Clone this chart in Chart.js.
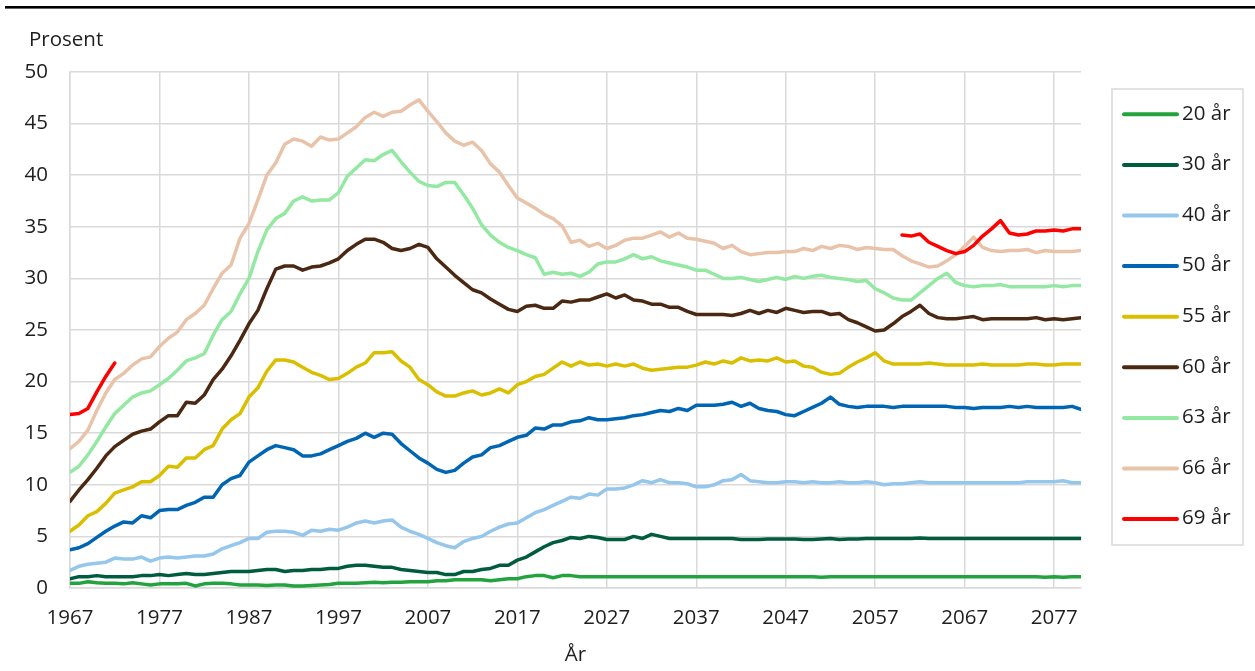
<!DOCTYPE html>
<html lang="no">
<head>
<meta charset="utf-8">
<title>Prosent etter alder</title>
<script src="https://cdn.jsdelivr.net/npm/chart.js@4.4.1/dist/chart.umd.min.js"></script>
<style>
    html, body { margin: 0; padding: 0; background: #fff; }
    #wrap { width: 1255px; height: 671px; }
</style>
</head>
<body>
<div id="wrap"><canvas id="chart" width="1255" height="671"></canvas></div>
<script>
/*  Andel (prosent) etter alder, 1967–2080  */

/* ====== DATA ====== */
const years = [
    1967, 1968, 1969, 1970, 1971, 1972, 1973, 1974, 1975, 1976,
    1977, 1978, 1979, 1980, 1981, 1982, 1983, 1984, 1985, 1986,
    1987, 1988, 1989, 1990, 1991, 1992, 1993, 1994, 1995, 1996,
    1997, 1998, 1999, 2000, 2001, 2002, 2003, 2004, 2005, 2006,
    2007, 2008, 2009, 2010, 2011, 2012, 2013, 2014, 2015, 2016,
    2017, 2018, 2019, 2020, 2021, 2022, 2023, 2024, 2025, 2026,
    2027, 2028, 2029, 2030, 2031, 2032, 2033, 2034, 2035, 2036,
    2037, 2038, 2039, 2040, 2041, 2042, 2043, 2044, 2045, 2046,
    2047, 2048, 2049, 2050, 2051, 2052, 2053, 2054, 2055, 2056,
    2057, 2058, 2059, 2060, 2061, 2062, 2063, 2064, 2065, 2066,
    2067, 2068, 2069, 2070, 2071, 2072, 2073, 2074, 2075, 2076,
    2077, 2078, 2079, 2080
];

const tickYears = [1967, 1977, 1987, 1997, 2007, 2017, 2027, 2037, 2047, 2057, 2067, 2077];
const tickValues = [0, 5, 10, 15, 20, 25, 30, 35, 40, 45, 50];

const age20 = [
    0.45, 0.45, 0.6, 0.5, 0.45, 0.45, 0.4, 0.5, 0.4, 0.3,
    0.4, 0.4, 0.4, 0.45, 0.2, 0.4, 0.45, 0.45, 0.4, 0.3,
    0.3, 0.3, 0.25, 0.3, 0.3, 0.2, 0.2, 0.25, 0.3, 0.35,
    0.45, 0.45, 0.45, 0.5, 0.55, 0.5, 0.55, 0.55, 0.6, 0.6,
    0.6, 0.7, 0.7, 0.8, 0.8, 0.8, 0.8, 0.7, 0.8, 0.9,
    0.9, 1.1, 1.2, 1.2, 1.0, 1.2, 1.2, 1.1, 1.1, 1.1,
    1.1, 1.1, 1.1, 1.1, 1.1, 1.1, 1.1, 1.1, 1.1, 1.1,
    1.1, 1.1, 1.1, 1.1, 1.1, 1.1, 1.1, 1.1, 1.1, 1.1,
    1.1, 1.1, 1.1, 1.1, 1.05, 1.1, 1.1, 1.1, 1.1, 1.1,
    1.1, 1.1, 1.1, 1.1, 1.1, 1.1, 1.1, 1.1, 1.1, 1.1,
    1.1, 1.1, 1.1, 1.1, 1.1, 1.1, 1.1, 1.1, 1.1, 1.05,
    1.1, 1.05, 1.1, 1.1
];

const age30 = [
    0.9, 1.1, 1.1, 1.2, 1.1, 1.1, 1.1, 1.1, 1.2, 1.2,
    1.3, 1.2, 1.3, 1.4, 1.3, 1.3, 1.4, 1.5, 1.6, 1.6,
    1.6, 1.7, 1.8, 1.8, 1.6, 1.7, 1.7, 1.8, 1.8, 1.9,
    1.9, 2.1, 2.2, 2.2, 2.1, 2.0, 2.0, 1.8, 1.7, 1.6,
    1.5, 1.5, 1.3, 1.3, 1.6, 1.6, 1.8, 1.9, 2.2, 2.2,
    2.7, 3.0, 3.5, 4.0, 4.4, 4.6, 4.9, 4.8, 5.0, 4.9,
    4.7, 4.7, 4.7, 5.0, 4.8, 5.2, 5.0, 4.8, 4.8, 4.8,
    4.8, 4.8, 4.8, 4.8, 4.8, 4.7, 4.7, 4.7, 4.75, 4.75,
    4.75, 4.75, 4.7, 4.7, 4.75, 4.8, 4.7, 4.75, 4.75, 4.8,
    4.8, 4.8, 4.8, 4.8, 4.8, 4.85, 4.8, 4.8, 4.8, 4.8,
    4.8, 4.8, 4.8, 4.8, 4.8, 4.8, 4.8, 4.8, 4.8, 4.8,
    4.8, 4.8, 4.8, 4.8
];

const age40 = [
    1.7, 2.1, 2.3, 2.4, 2.5, 2.9, 2.8, 2.8, 3.0, 2.6,
    2.9, 3.0, 2.9, 3.0, 3.1, 3.1, 3.3, 3.8, 4.1, 4.4,
    4.8, 4.8, 5.4, 5.5, 5.5, 5.4, 5.1, 5.6, 5.5, 5.7,
    5.6, 5.9, 6.3, 6.5, 6.3, 6.5, 6.6, 5.9, 5.5, 5.2,
    4.8, 4.4, 4.1, 3.9, 4.5, 4.8, 5.0, 5.5, 5.9, 6.2,
    6.3, 6.8, 7.3, 7.6, 8.0, 8.4, 8.8, 8.7, 9.1, 9.0,
    9.6, 9.6, 9.7, 10.0, 10.4, 10.2, 10.5, 10.2, 10.2, 10.1,
    9.8, 9.8, 10.0, 10.4, 10.5, 11.0, 10.4, 10.3, 10.2, 10.2,
    10.3, 10.3, 10.2, 10.3, 10.2, 10.2, 10.3, 10.2, 10.2, 10.3,
    10.2, 10.0, 10.1, 10.1, 10.2, 10.3, 10.2, 10.2, 10.2, 10.2,
    10.2, 10.2, 10.2, 10.2, 10.2, 10.2, 10.2, 10.3, 10.3, 10.3,
    10.3, 10.4, 10.2, 10.2
];

const age50 = [
    3.7, 3.9, 4.3, 4.9, 5.5, 6.0, 6.4, 6.3, 7.0, 6.8,
    7.5, 7.6, 7.6, 8.0, 8.3, 8.8, 8.8, 10.0, 10.6, 10.9,
    12.2, 12.8, 13.4, 13.8, 13.6, 13.4, 12.8, 12.8, 13.0, 13.4,
    13.8, 14.2, 14.5, 15.0, 14.6, 15.0, 14.9, 14.0, 13.3, 12.6,
    12.1, 11.5, 11.2, 11.4, 12.1, 12.7, 12.9, 13.6, 13.8, 14.2,
    14.6, 14.8, 15.5, 15.4, 15.8, 15.8, 16.1, 16.2, 16.5, 16.3,
    16.3, 16.4, 16.5, 16.7, 16.8, 17.0, 17.2, 17.1, 17.4, 17.2,
    17.7, 17.7, 17.7, 17.8, 18.0, 17.6, 17.9, 17.4, 17.2, 17.1,
    16.8, 16.7, 17.1, 17.5, 17.9, 18.5, 17.8, 17.6, 17.5, 17.6,
    17.6, 17.6, 17.5, 17.6, 17.6, 17.6, 17.6, 17.6, 17.6, 17.5,
    17.5, 17.4, 17.5, 17.5, 17.5, 17.6, 17.5, 17.6, 17.5, 17.5,
    17.5, 17.5, 17.6, 17.3
];

const age55 = [
    5.5, 6.1, 7.0, 7.4, 8.2, 9.2, 9.5, 9.8, 10.3, 10.3,
    10.9, 11.8, 11.7, 12.6, 12.6, 13.4, 13.8, 15.4, 16.3, 16.9,
    18.5, 19.4, 21.0, 22.1, 22.1, 21.9, 21.4, 20.9, 20.6, 20.2,
    20.3, 20.8, 21.4, 21.8, 22.8, 22.8, 22.9, 22.0, 21.4, 20.2,
    19.7, 19.0, 18.6, 18.6, 18.9, 19.1, 18.7, 18.9, 19.3, 18.9,
    19.7, 20.0, 20.5, 20.7, 21.3, 21.9, 21.5, 21.9, 21.6, 21.7,
    21.5, 21.7, 21.5, 21.7, 21.3, 21.1, 21.2, 21.3, 21.4, 21.4,
    21.6, 21.9, 21.7, 22.0, 21.8, 22.3, 22.0, 22.1, 22.0, 22.3,
    21.9, 22.0, 21.5, 21.4, 20.9, 20.7, 20.8, 21.4, 21.9, 22.3,
    22.8, 22.0, 21.7, 21.7, 21.7, 21.7, 21.8, 21.7, 21.6, 21.6,
    21.6, 21.6, 21.7, 21.6, 21.6, 21.6, 21.6, 21.7, 21.7, 21.6,
    21.6, 21.7, 21.7, 21.7
];

const age60 = [
    8.4, 9.5, 10.5, 11.6, 12.8, 13.7, 14.3, 14.9, 15.2, 15.4,
    16.1, 16.7, 16.7, 18.0, 17.9, 18.7, 20.2, 21.2, 22.5, 24.0,
    25.6, 26.9, 29.0, 30.9, 31.2, 31.2, 30.8, 31.1, 31.2, 31.5,
    31.9, 32.7, 33.3, 33.8, 33.8, 33.5, 32.9, 32.7, 32.9, 33.3,
    33.0, 31.9, 31.1, 30.3, 29.6, 28.9, 28.6, 28.0, 27.5, 27.0,
    26.8, 27.3, 27.4, 27.1, 27.1, 27.8, 27.7, 27.9, 27.9, 28.2,
    28.5, 28.1, 28.4, 27.9, 27.8, 27.5, 27.5, 27.2, 27.2, 26.8,
    26.5, 26.5, 26.5, 26.5, 26.4, 26.6, 26.9, 26.6, 26.9, 26.7,
    27.1, 26.9, 26.7, 26.8, 26.8, 26.5, 26.6, 26.0, 25.7, 25.3,
    24.9, 25.0, 25.6, 26.3, 26.8, 27.4, 26.6, 26.2, 26.1, 26.1,
    26.2, 26.3, 26.0, 26.1, 26.1, 26.1, 26.1, 26.1, 26.2, 26.0,
    26.1, 26.0, 26.1, 26.2
];

const age63 = [
    11.2, 11.8, 12.9, 14.2, 15.6, 16.9, 17.7, 18.5, 18.9, 19.1,
    19.7, 20.3, 21.1, 22.0, 22.3, 22.7, 24.5, 26.0, 26.8, 28.5,
    30.0, 32.6, 34.7, 35.8, 36.3, 37.5, 37.9, 37.5, 37.6, 37.6,
    38.3, 39.9, 40.7, 41.5, 41.4, 42.0, 42.4, 41.3, 40.3, 39.4,
    39.0, 38.9, 39.3, 39.3, 38.1, 36.8, 35.2, 34.2, 33.5, 33.0,
    32.7, 32.3, 32.0, 30.4, 30.6, 30.4, 30.5, 30.2, 30.6, 31.4,
    31.6, 31.6, 31.9, 32.3, 31.9, 32.1, 31.7, 31.5, 31.3, 31.1,
    30.8, 30.8, 30.4, 30.0, 30.0, 30.1, 29.9, 29.7, 29.9, 30.1,
    29.9, 30.2, 30.0, 30.2, 30.3, 30.1, 30.0, 29.9, 29.7, 29.8,
    29.0, 28.6, 28.1, 27.9, 27.9, 28.6, 29.3, 30.0, 30.5, 29.6,
    29.3, 29.2, 29.3, 29.3, 29.4, 29.2, 29.2, 29.2, 29.2, 29.2,
    29.3, 29.2, 29.3, 29.3
];

const age66 = [
    13.5, 14.2, 15.3, 17.2, 18.9, 20.2, 20.8, 21.6, 22.2, 22.4,
    23.4, 24.2, 24.8, 26.0, 26.6, 27.4, 29.0, 30.5, 31.3, 33.9,
    35.3, 37.6, 40.0, 41.2, 43.0, 43.5, 43.3, 42.8, 43.7, 43.4,
    43.5, 44.1, 44.7, 45.6, 46.1, 45.7, 46.1, 46.2, 46.8, 47.3,
    46.2, 45.2, 44.1, 43.3, 42.9, 43.2, 42.4, 41.1, 40.3, 39.0,
    37.8, 37.3, 36.8, 36.2, 35.8, 35.1, 33.5, 33.7, 33.1, 33.4,
    32.9, 33.2, 33.7, 33.9, 33.9, 34.2, 34.5, 34.0, 34.4, 33.9,
    33.8, 33.6, 33.4, 32.9, 33.2, 32.6, 32.3, 32.4, 32.5, 32.5,
    32.6, 32.6, 32.9, 32.7, 33.1, 32.9, 33.2, 33.1, 32.8, 33.0,
    32.9, 32.8, 32.8, 32.2, 31.7, 31.4, 31.1, 31.2, 31.7, 32.3,
    33.1, 34.0, 33.0, 32.7, 32.6, 32.7, 32.7, 32.8, 32.5, 32.7,
    32.6, 32.6, 32.6, 32.7
];

// 69 år: 1967–1972, no values 1973–2059, then 2060–2080
const age69Early = [16.8, 16.9, 17.4, 19.0, 20.5, 21.8];
const age69Late = [
    34.2, 34.1, 34.3, 33.5, 33.1, 32.7, 32.4, 32.6, 33.2, 34.1,
    34.8, 35.6, 34.4, 34.2, 34.3, 34.6, 34.6, 34.7, 34.6, 34.8,
    34.8
];
const age69 = age69Early.concat(
    new Array(years.length - age69Early.length - age69Late.length).fill(null),
    age69Late
);

const seriesNames = ["20 år", "30 år", "40 år", "50 år", "55 år", "60 år", "63 år", "66 år", "69 år"];
const seriesData = [age20, age30, age40, age50, age55, age60, age63, age66, age69];
const seriesColors = ["#22a33d", "#005b3f", "#95c6ec", "#0065b2", "#d9bf00", "#4b2812", "#93e8a2", "#e8c3a9", "#ff0000"];

/* ====== STYLE ====== */
const FONT = "'Open Sans', 'Noto Sans', sans-serif";
const FONT_SIZE = 20.5;
const TEXT = "#1e1e1e";
const GRID = "#d9d9d9";

Chart.defaults.font.family = FONT;
Chart.defaults.font.size = FONT_SIZE;
Chart.defaults.color = TEXT;

/* ====== PLUGIN: top rule, unit label, boxed legend ====== */
const decorations = {
    id: "decorations",
    beforeDraw: function (chart) {
        var ctx = chart.ctx;
        ctx.save();
        ctx.fillStyle = "#fff";
        ctx.fillRect(0, 0, chart.width, chart.height);
        ctx.fillStyle = "#000";
        ctx.fillRect(5, 6, chart.width - 5, 2.6);
        // unit label above the y axis
        ctx.font = FONT_SIZE + "px " + FONT;
        ctx.textAlign = "left";
        ctx.textBaseline = "middle";
        ctx.fillStyle = TEXT;
        ctx.fillText("Prosent", 29, 40);
        ctx.restore();
    },
    afterDraw: function (chart) {
        var ctx = chart.ctx;
        var box = { x: 1112, y: 89, w: 131, h: 456 };
        ctx.save();
        ctx.strokeStyle = GRID;
        ctx.lineWidth = 1.5;
        ctx.strokeRect(box.x, box.y, box.w, box.h);

        ctx.font = FONT_SIZE + "px " + FONT;
        ctx.textAlign = "left";
        ctx.textBaseline = "middle";
        ctx.lineCap = "round";
        ctx.lineWidth = 4;
        chart.data.datasets.forEach(function (ds, i) {
            var y = 114.3 + i * 50.6;
            ctx.strokeStyle = ds.borderColor;
            ctx.beginPath();
            ctx.moveTo(1124, y);
            ctx.lineTo(1177, y);
            ctx.stroke();
            ctx.fillStyle = TEXT;
            ctx.fillText(ds.label, 1182, y - 0.5);
        });
        ctx.restore();
    }
};

/* ====== CHART ====== */
const datasets = seriesNames.map(function (name, i) {
    return {
        label: name,
        data: seriesData[i],
        borderColor: seriesColors[i],
        backgroundColor: seriesColors[i],
        borderWidth: 3.5,
        borderJoinStyle: "round",
        borderCapStyle: "round",
        pointRadius: 0,
        tension: 0,
        spanGaps: false,
        fill: false,
        order: seriesNames.length - i   // later series drawn on top
    };
});

new Chart(document.getElementById("chart"), {
    type: "line",
    data: { labels: years, datasets: datasets },
    plugins: [decorations],
    options: {
        responsive: false,
        animation: false,
        events: [],
        layout: { padding: { left: 0, right: 174, top: 72, bottom: 0 } },
        plugins: {
            legend: { display: false },
            tooltip: { enabled: false },
            title: { display: false }
        },
        scales: {
            x: {
                type: "linear",
                min: years[0],
                max: years[years.length - 1],
                afterBuildTicks: function (scale) {
                    scale.ticks = tickYears.map(function (v) { return { value: v }; });
                },
                afterFit: function (scale) { scale.height = 83; },
                ticks: {
                    padding: 18.3,
                    maxRotation: 0,
                    autoSkip: false,
                    color: TEXT,
                    callback: function (v) { return String(v); }
                },
                grid: { color: GRID, lineWidth: 1.5, drawTicks: false },
                border: { color: GRID, width: 1.5 },
                title: {
                    display: true,
                    text: "År",
                    color: TEXT,
                    font: { size: FONT_SIZE },
                    padding: { top: 0, bottom: 3.3 }
                }
            },
            y: {
                min: 0,
                max: 50,
                afterBuildTicks: function (scale) {
                    scale.ticks = tickValues.map(function (v) { return { value: v }; });
                },
                afterFit: function (scale) { scale.width = 70; },
                ticks: { padding: 22, color: TEXT },
                grid: { color: GRID, lineWidth: 1.5, drawTicks: false },
                border: { color: GRID, width: 1.5 }
            }
        }
    }
});
</script>
</body>
</html>
